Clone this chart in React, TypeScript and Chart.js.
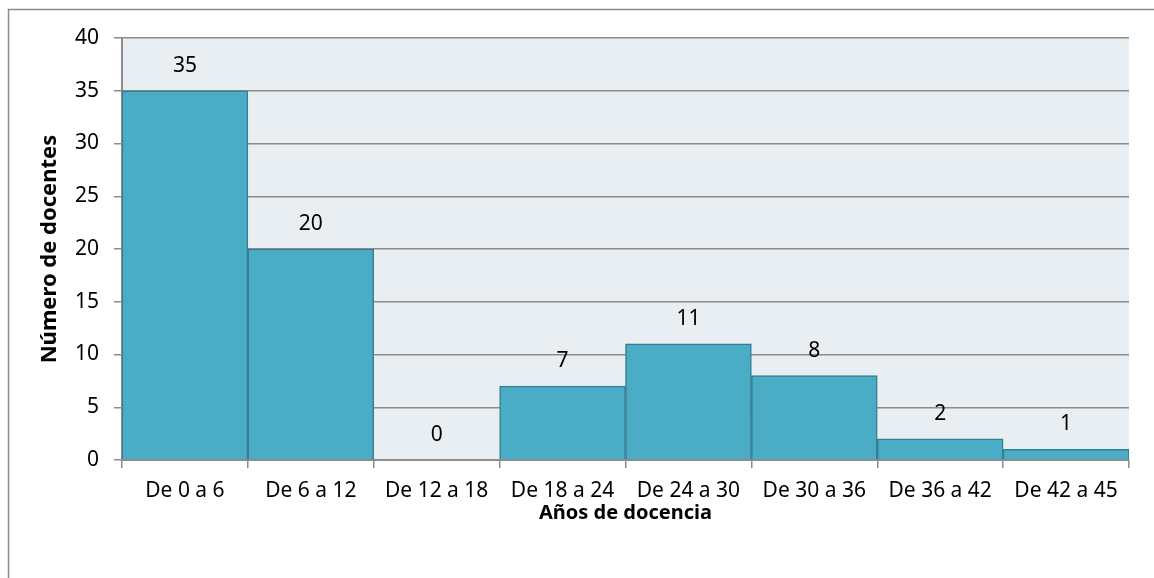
import React, { useEffect, useRef } from "react";
import { Chart, registerables } from "chart.js";

Chart.register(...registerables);

const categories = ["De 0 a 6", "De 6 a 12", "De 12 a 18", "De 18 a 24", "De 24 a 30", "De 30 a 36", "De 36 a 42", "De 42 a 45"];
const docentes = [35, 20, 0, 7, 11, 8, 2, 1];
const yTitle = "Número de docentes";
const xTitle = "Años de docencia";

const FONT = "'Noto Sans', sans-serif";

const decorPlugin = {
  id: "decor",
  beforeDraw(chart: any) {
    const { ctx, chartArea } = chart;
    ctx.save();
    ctx.fillStyle = "#ffffff";
    ctx.fillRect(0, 0, chart.width, chart.height);
    ctx.strokeStyle = "#8c8c8c";
    ctx.lineWidth = 1.5;
    ctx.beginPath();
    ctx.moveTo(8.5, chart.height + 5);
    ctx.lineTo(8.5, 9.5);
    ctx.lineTo(chart.width + 5, 9.5);
    ctx.stroke();
    ctx.fillStyle = "#e8eef2";
    ctx.fillRect(chartArea.left, chartArea.top, chartArea.right - chartArea.left, chartArea.bottom - chartArea.top);
    ctx.restore();
  },
  afterDatasetsDraw(chart: any) {
    const { ctx } = chart;
    const meta = chart.getDatasetMeta(0);
    ctx.save();
    ctx.fillStyle = "#000000";
    ctx.font = `21px ${FONT}`;
    ctx.textAlign = "center";
    ctx.textBaseline = "middle";
    meta.data.forEach((bar: any, i: number) => {
      ctx.fillText(String(docentes[i]), bar.x, bar.y - 25);
    });
    ctx.restore();
  },
};

export default function App() {
  const ref = useRef<HTMLCanvasElement>(null);
  useEffect(() => {
    if (!ref.current) return;
    const chart = new Chart(ref.current, {
      type: "bar",
      data: {
        labels: categories,
        datasets: [
          {
            data: docentes,
            backgroundColor: "#4bacc6",
            borderColor: "#357f94",
            borderWidth: 1.5,
            barPercentage: 1,
            categoryPercentage: 1,
          },
        ],
      },
      options: {
        animation: false,
        responsive: false,
        maintainAspectRatio: false,
        layout: { padding: { left: 0, right: 25, top: 38, bottom: 0 } },
        plugins: { legend: { display: false }, tooltip: { enabled: false } },
        scales: {
          x: {
            offset: true,
            grid: {
              offset: true,
              drawOnChartArea: false,
              drawTicks: true,
              tickLength: 8,
              color: "#8c8c8c",
              lineWidth: 1.5,
            },
            border: { color: "#8c8c8c", width: 2 },
            ticks: { color: "#000", font: { family: FONT, size: 21 }, padding: 10, maxRotation: 0, autoSkip: false },
            title: {
              display: true,
              text: xTitle,
              color: "#000",
              font: { family: FONT, size: 20, weight: "bold" },
              padding: { top: 0, bottom: 53 },
            },
            afterFit(scale: any) {
              scale.height = 118;
            },
          },
          y: {
            min: 0,
            max: 40,
            ticks: { stepSize: 5, color: "#000", font: { family: FONT, size: 21 }, padding: 15 },
            grid: { color: "#8c8c8c", lineWidth: 1.5, tickLength: 8 },
            border: { color: "#8c8c8c", width: 2 },
            title: {
              display: true,
              text: yTitle,
              color: "#000",
              font: { family: FONT, size: 22, weight: "bold" },
              padding: { top: 37, bottom: 0 },
            },
            afterFit(scale: any) {
              scale.width = 122;
            },
          },
        },
      },
      plugins: [decorPlugin],
    });
    return () => chart.destroy();
  }, []);
  return (
    <div style={{ position: "absolute", left: 0, top: 0, width: 1154, height: 578 }}>
      <canvas ref={ref} width={1154} height={578} style={{ display: "block", width: 1154, height: 578 }} />
    </div>
  );
}
